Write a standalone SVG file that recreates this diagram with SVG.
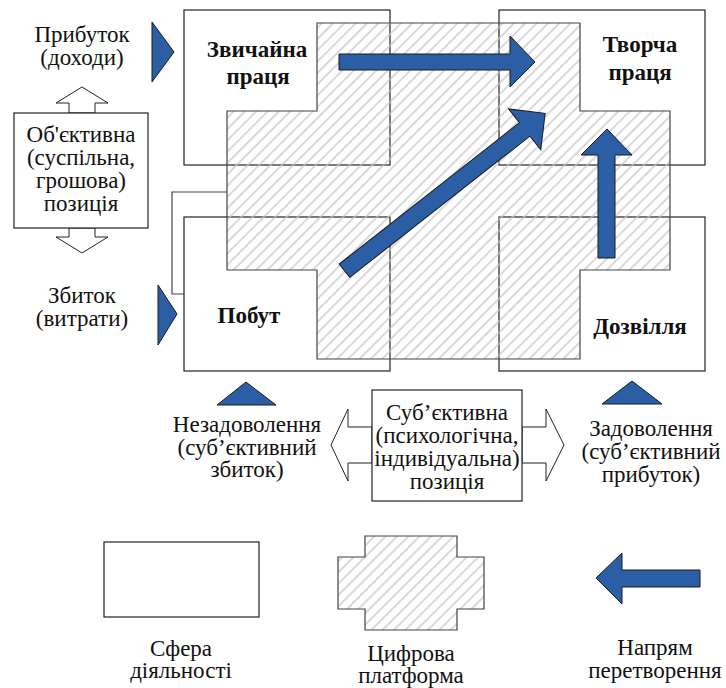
<svg xmlns="http://www.w3.org/2000/svg" width="726" height="688" viewBox="0 0 726 688">
<style>
text{font-family:"Liberation Serif","Times New Roman",serif;font-size:23px;fill:#111;text-anchor:middle}
.b{font-weight:bold}
.box{fill:#fff;stroke:#222;stroke-width:1.2}
.cross{fill:url(#hatch);stroke:#444;stroke-width:1.2}
.blue{fill:#2C5EA6;stroke:#1a1a1a;stroke-width:1}
.wa{fill:#fff;stroke:#222;stroke-width:1}
.conn{fill:none;stroke:#444;stroke-width:1.2}
</style>
<defs>
<pattern id="hatch" width="8" height="8" patternUnits="userSpaceOnUse" patternTransform="rotate(45)">
<line x1="4" y1="0" x2="4" y2="8" stroke="#c4c4c4" stroke-width="1.3"/>
</pattern>
</defs>
<g id="sphere-ordinary-work"><rect class="box" x="184" y="10" width="206" height="155"/></g>
<g id="sphere-creative-work"><rect class="box" x="499" y="10" width="206" height="155"/></g>
<g id="sphere-everyday"><rect class="box" x="184" y="217" width="206" height="154"/></g>
<g id="sphere-leisure"><rect class="box" x="499" y="217" width="206" height="154"/></g>
<g id="digital-platform"><polygon class="cross" points="317,23 580,23 580,111 670,111 670,270 580,270 580,359 317,359 317,270 227,270 227,111 317,111"/></g>
<g id="connectors"><polyline class="conn" points="227,192 172,192 172,294 184,294"/></g>
<g id="transform-arrows">
<polygon class="blue" points="339,54 510,54 510,36 535,62 510,87 510,70 339,70"/>
<polygon class="blue" transform="translate(344.5,270.7) rotate(-38.1)" points="0,-8.5 229,-8.5 229,-26 255,0 229,26 229,8.5 0,8.5"/>
<polygon class="blue" points="598,258 598,155 581,155 607,129 632,155 615,155 615,258"/>
</g>
<g id="label-ordinary"><text class="b" x="257" y="57">Звичайна</text><text class="b" x="258" y="84">праця</text></g>
<g id="label-creative"><text class="b" x="640" y="52">Творча</text><text class="b" x="640" y="80">праця</text></g>
<g id="label-everyday"><text class="b" x="249" y="323">Побут</text></g>
<g id="label-leisure"><text class="b" x="640" y="334">Дозвілля</text></g>
<g id="profit"><polygon class="blue" points="152,22 174,52 152,82"/><text x="82" y="42">Прибуток</text><text x="82" y="65">(доходи)</text></g>
<g id="loss"><polygon class="blue" points="158,285 177,314 158,345"/><text x="82" y="303">Збиток</text><text x="82" y="326">(витрати)</text></g>
<g id="objective-position">
<polygon class="wa" points="69,113 69,103 56,103 82,87 108,103 95,103 95,113"/>
<polygon class="wa" points="69,228 69,237 56,237 82,253 108,237 95,237 95,228"/>
<rect class="box" x="14" y="113" width="134" height="115"/>
<text x="81" y="142">Об'єктивна</text><text x="81" y="165">(суспільна,</text><text x="81" y="188">грошова)</text><text x="81" y="211">позиція</text>
</g>
<g id="dissatisfaction"><polygon class="blue" points="217,405 246,382 276,405"/><text x="247" y="432">Незадоволення</text><text x="247" y="455">(суб’єктивний</text><text x="247" y="477">збиток)</text></g>
<g id="satisfaction"><polygon class="blue" points="602,404 632,381 662,404"/><text x="651" y="436">Задоволення</text><text x="651" y="459">(суб’єктивний</text><text x="651" y="482">прибуток)</text></g>
<g id="subjective-position">
<polygon class="wa" points="372,427 348,427 348,409 331,445 348,481 348,463 372,463"/>
<polygon class="wa" points="522,427 546,427 546,409 564,445 546,481 546,463 522,463"/>
<rect class="box" x="372" y="390" width="150" height="111"/>
<text x="447" y="420">Суб’єктивна</text><text x="447" y="443">(психологічна,</text><text x="447" y="466">індивідуальна)</text><text x="447" y="489">позиція</text>
</g>
<g id="legend-sphere"><rect class="box" x="104" y="542" width="155" height="75"/><text x="181" y="656">Сфера</text><text x="181" y="678">діяльності</text></g>
<g id="legend-platform"><polygon class="cross" points="365,536 457,536 457,557 484,557 484,609 457,609 457,630 365,630 365,609 338,609 338,557 365,557"/><text x="411" y="661">Цифрова</text><text x="411" y="683">платформа</text></g>
<g id="legend-direction"><polygon class="blue" points="700,570 622,570 622,553 596,578 622,604 622,587 700,587"/><text x="655" y="655">Напрям</text><text x="655" y="678">перетворення</text></g>
</svg>
